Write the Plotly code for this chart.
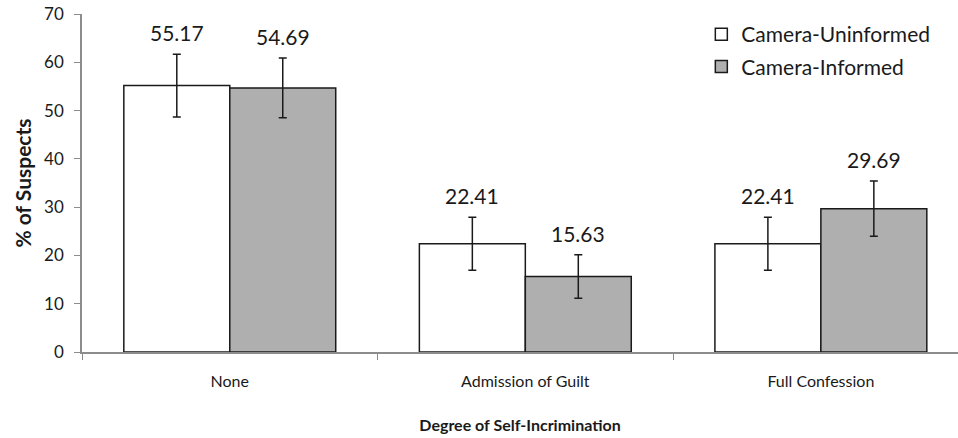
import plotly.graph_objects as go

categories = ["None", "Admission of Guilt", "Full Confession"]
uninformed = [55.17, 22.41, 22.41]
informed = [54.69, 15.63, 29.69]
uninformed_err = [6.5, 5.5, 5.5]
informed_err = [6.2, 4.5, 5.7]
series_names = ["Camera-Uninformed", "Camera-Informed"]
y_ticks = [0, 10, 20, 30, 40, 50, 60, 70]

FONT = "Lato"
INK = "#1a1a1a"
fig = go.Figure()
for name, vals, errs, color in [
    (series_names[0], uninformed, uninformed_err, "#ffffff"),
    (series_names[1], informed, informed_err, "#afafaf"),
]:
    fig.add_trace(go.Bar(
        name=name, x=categories, y=vals, legendgroup=name,
        marker=dict(color=color, line=dict(color=INK, width=1.5)),
        error_y=dict(type="data", array=errs, visible=True, color=INK,
                     thickness=1.5, width=4),
    ))

# value labels above error bars
for i, (vals, errs) in enumerate([(uninformed, uninformed_err), (informed, informed_err)]):
    for j, c in enumerate(categories):
        fig.add_annotation(
            x=j + (-0.179 if i == 0 else 0.179), y=vals[j] + errs[j],
            xref="x", yref="y", text=f"{vals[j]:.2f}", showarrow=False,
            yanchor="bottom", yshift=7,
            font=dict(family=FONT, size=21, color=INK),
        )

fig.update_layout(
    width=958, height=438,
    margin=dict(l=82, r=0, t=14, b=86),
    paper_bgcolor="white", plot_bgcolor="white",
    barmode="group", bargap=0.283, bargroupgap=0,
    font=dict(family=FONT, size=16, color=INK),
    legend=dict(x=0.707, y=1.0, xanchor="left", yanchor="top",
                font=dict(family=FONT, size=21, color=INK),
                bgcolor="rgba(0,0,0,0)", tracegroupgap=2, itemwidth=30),
    xaxis=dict(
        type="category", range=[-0.5, 2.464],
        showline=True, linecolor="#8c8c8c", linewidth=1.5,
        ticks="outside", tickson="boundaries", ticklen=6, tickcolor="#8c8c8c",
        tickfont=dict(family=FONT, size=16, color=INK),
        ticklabelstandoff=14,
        title=dict(text="<b>Degree of Self-Incrimination</b>", standoff=31,
                   font=dict(family=FONT, size=16, color=INK)),
        showgrid=False, automargin=False,
    ),
    yaxis=dict(
        range=[0, 70], tickvals=y_ticks,
        showline=True, linecolor="#8c8c8c", linewidth=1.5,
        ticks="outside", ticklen=6, tickcolor="#8c8c8c",
        tickfont=dict(family=FONT, size=17, color=INK),
        ticklabelstandoff=7, ticklabeloverflow="allow",
        title=dict(text="<b>% of Suspects</b>", standoff=7,
                   font=dict(family=FONT, size=21, color=INK)),
        showgrid=False, zeroline=False, automargin=False,
    ),
)
fig.write_html("out.html", config={"displayModeBar": False},
               post_script="document.body.style.margin='0px';")
